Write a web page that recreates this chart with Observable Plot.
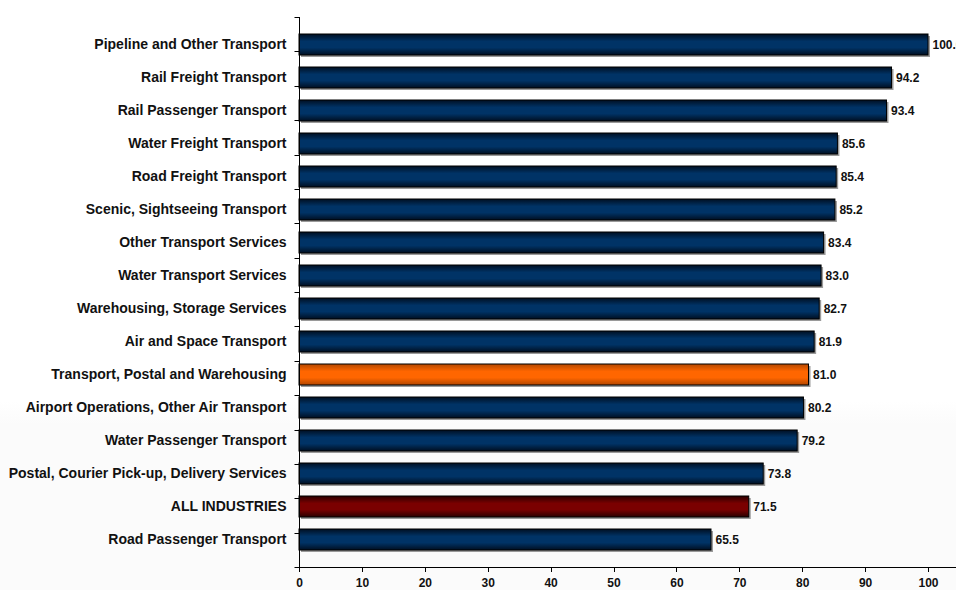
<!DOCTYPE html>
<html><head><meta charset="utf-8">
<script src="https://cdn.jsdelivr.net/npm/d3@7"></script>
<script src="https://cdn.jsdelivr.net/npm/@observablehq/plot@0.6"></script>
<style>
body{margin:0;background:#fff;font-family:Arial,"Liberation Sans",sans-serif;}
#chart{width:956px;height:590px;overflow:hidden;background:linear-gradient(#ffffff 0%,#ffffff 68%,#fbfbfb 72%,#fbfbfb 100%);}
</style></head>
<body><div id="chart"></div>
<script>
const categories = [
  "Pipeline and Other Transport",
  "Rail Freight Transport",
  "Rail Passenger Transport",
  "Water Freight Transport",
  "Road Freight Transport",
  "Scenic, Sightseeing Transport",
  "Other Transport Services",
  "Water Transport Services",
  "Warehousing, Storage Services",
  "Air and Space Transport",
  "Transport, Postal and Warehousing",
  "Airport Operations, Other Air Transport",
  "Water Passenger Transport",
  "Postal, Courier Pick-up, Delivery Services",
  "ALL INDUSTRIES",
  "Road Passenger Transport"
];
const values = [100.0, 94.2, 93.4, 85.6, 85.4, 85.2, 83.4, 83.0, 82.7, 81.9, 81.0, 80.2, 79.2, 73.8, 71.5, 65.5];
const groups = ["sub","sub","sub","sub","sub","sub","sub","sub","sub","sub","division","sub","sub","sub","all","sub"];
const xTicks = [0,10,20,30,40,50,60,70,80,90,100];

const data = categories.map((name, i) => ({name, value: values[i], group: groups[i]}));

const defs = () => {
  const g = d3.create("svg:defs");
  const mk = (id, edge, mid) => {
    const lg = g.append("linearGradient").attr("id", id).attr("x1", 0).attr("y1", 0).attr("x2", 0).attr("y2", 1);
    lg.append("stop").attr("offset", "0%").attr("stop-color", edge);
    lg.append("stop").attr("offset", "35%").attr("stop-color", mid);
    lg.append("stop").attr("offset", "65%").attr("stop-color", mid);
    lg.append("stop").attr("offset", "100%").attr("stop-color", edge);
  };
  mk("gNavy", "#000f22", "#003366");
  mk("gOrange", "#b34700", "#ff6600");
  mk("gRed", "#2a0000", "#7a0000");
  return g.node();
};

const axes = (index, scales, values_, dims) => {
  const g = d3.create("svg:g").attr("stroke", "black").attr("stroke-width", 1).attr("fill", "none");
  const x0 = Math.round(scales.x(0)) + 0.5;
  const top = dims.marginTop, bottom = dims.height - dims.marginBottom;
  g.append("line").attr("x1", x0).attr("x2", x0).attr("y1", top).attr("y2", bottom);
  g.append("line").attr("x1", x0 - 5).attr("x2", dims.width).attr("y1", bottom + 0.5).attr("y2", bottom + 0.5);
  const step = (bottom - top) / categories.length;
  for (let i = 0; i < categories.length; i++) {
    const y = Math.round(top + i * step) + 0.5;
    g.append("line").attr("x1", x0 - 5).attr("x2", x0).attr("y1", y).attr("y2", y);
  }
  for (const t of xTicks) {
    const x = Math.round(scales.x(t)) + 0.5;
    g.append("line").attr("x1", x).attr("x2", x).attr("y1", bottom).attr("y2", bottom + 5);
  }
  return g.node();
};

const chart = Plot.plot({
  width: 956,
  height: 590,
  marginLeft: 299,
  marginRight: 28,
  marginTop: 17,
  marginBottom: 23,
  style: {background: "transparent", fontFamily: "Arial, 'Liberation Sans', sans-serif", overflow: "hidden"},
  x: {domain: [0, 100], axis: null},
  y: {domain: categories, padding: 0.36, axis: null},
  marks: [
    defs,
    Plot.barX(data, {x: "value", y: "name", fill: "#9a9a9a", dx: 2, dy: 2}),
    Plot.barX(data.filter(d => d.group === "sub"), {x: "value", y: "name", fill: "url(#gNavy)", stroke: "black", strokeWidth: 1}),
    Plot.barX(data.filter(d => d.group === "division"), {x: "value", y: "name", fill: "url(#gOrange)", stroke: "black", strokeWidth: 1}),
    Plot.barX(data.filter(d => d.group === "all"), {x: "value", y: "name", fill: "url(#gRed)", stroke: "black", strokeWidth: 1}),
    Plot.text(data, {x: "value", y: "name", text: d => d.value.toFixed(1), textAnchor: "start", dx: 4, fontWeight: "bold", fontSize: 12, fill: "#111"}),
    Plot.text(data, {x: 0, y: "name", text: "name", textAnchor: "end", dx: -13, fontWeight: "bold", fontSize: 14, fill: "#111"}),
    Plot.text(xTicks, {x: d => d, text: d => String(d), frameAnchor: "bottom", lineAnchor: "middle", dy: 16, fontWeight: "bold", fontSize: 12, fill: "#111"}),
    axes
  ]
});
document.getElementById("chart").appendChild(chart);
</script>
</body></html>
